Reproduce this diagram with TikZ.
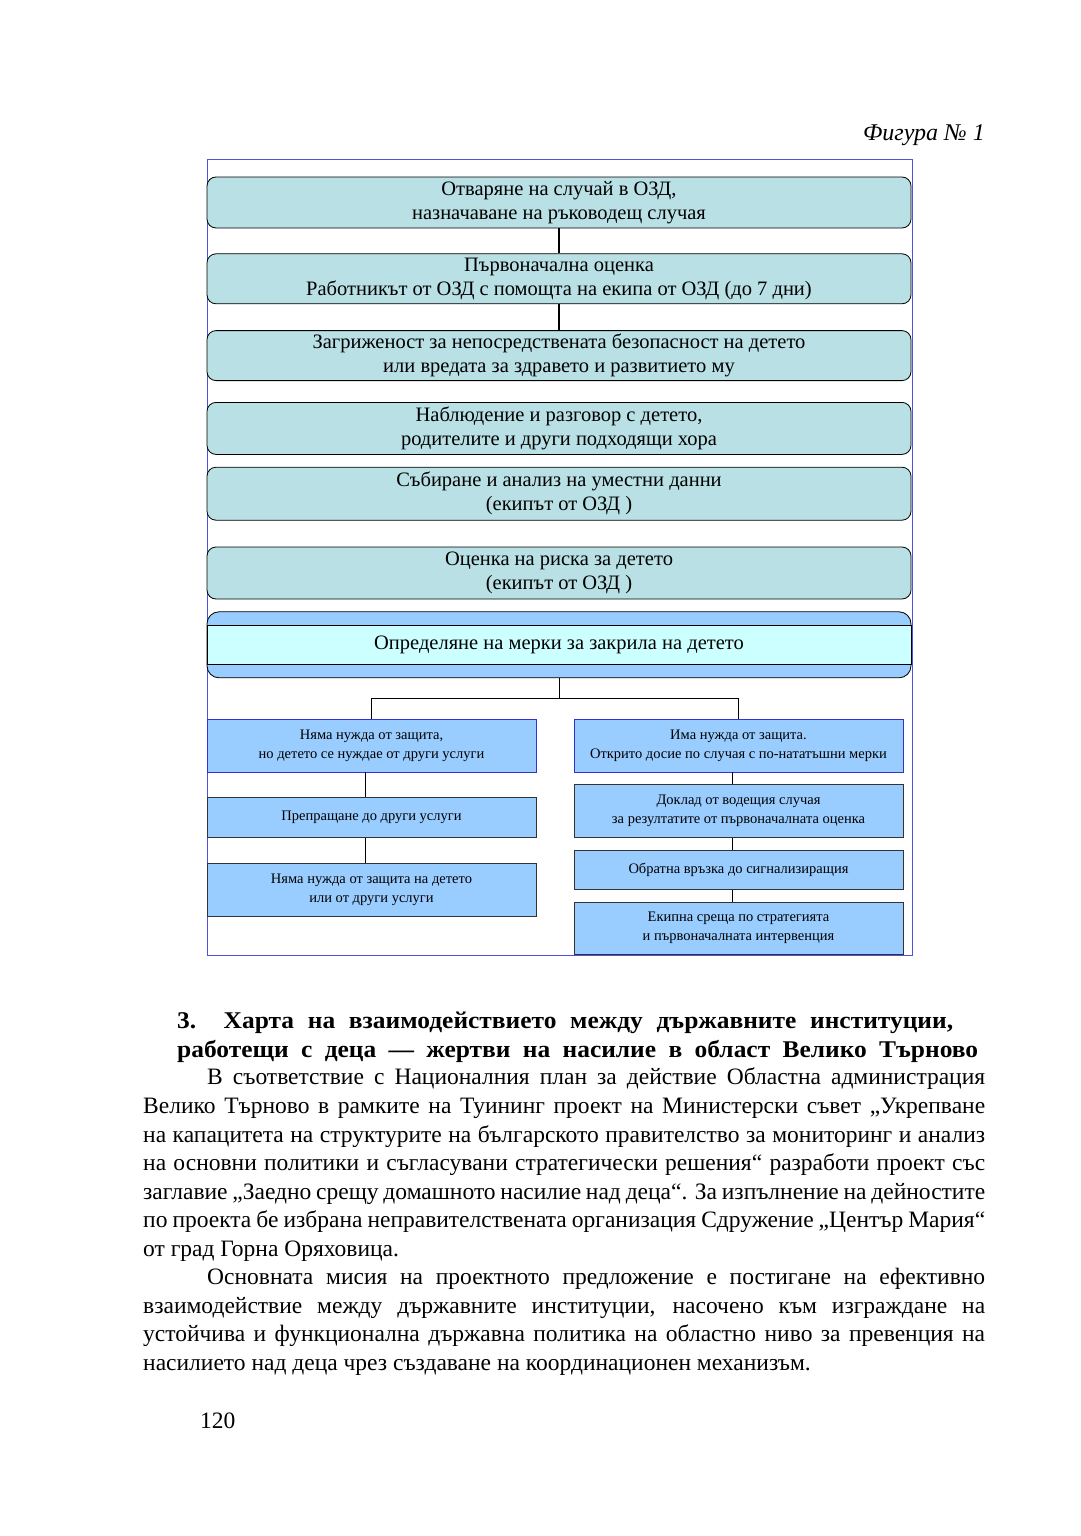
\documentclass[tikz,border=0pt]{standalone}
\usepackage{fontspec}
\setmainfont{Liberation Serif}
\newfontfamily\headfont[FakeStretch=1.06]{Liberation Serif}
\usetikzlibrary{positioning}
\definecolor{stagefill}{RGB}{185,224,228}
\definecolor{branchfill}{RGB}{153,204,255}
\definecolor{bandfill}{RGB}{204,255,255}
\definecolor{framecol}{RGB}{80,80,225}
\definecolor{branchedge}{RGB}{51,51,204}
\tikzset{
  stage/.style={draw=black, line width=0.8pt, fill=stagefill, rounded corners=9pt, minimum width=704pt,
    inner sep=0pt, align=center, font=\fontsize{20.5}{24}\selectfont},
  branch/.style={draw=black!80, line width=0.7pt, fill=branchfill, minimum width=329pt, inner sep=0pt,
    align=center, font=\fontsize{14.5}{19}\selectfont},
  branchtop/.style={branch, draw=branchedge},
  textline/.style={anchor=base west, inner sep=0pt, font=\fontsize{23.5}{28.6}\selectfont}
}
\newcommand{\bodyline}[4]{\node[textline] (#1) at (#2) {\makebox[#3][s]{#4}};}

\begin{document}
\begin{tikzpicture}[x=1pt, y=-1pt]
    % Page:
    \useasboundingbox[fill=white] (0,0) rectangle (1080,1536);
    \node[anchor=base east, inner sep=0pt, font=\itshape\fontsize{24}{28}\selectfont] (caption) at (985,141) {Фигура № 1};
    \draw[framecol, line width=0.9pt] (207,159) rectangle (912,955);

    % Stages:
    \node[stage, minimum height=51pt] (open) at (559,202.5) {Отваряне на случай в ОЗД,\\назначаване на ръководещ случая};
    \node[stage, minimum height=50pt, below=25pt of open] (first) {Първоначална оценка\\Работникът от ОЗД с помощта на екипа от ОЗД (до 7 дни)};
    \node[stage, minimum height=50pt, below=26pt of first] (concern) {Загриженост за непосредствената безопасност на детето\\или вредата за здравето и развитието му};
    \node[stage, minimum height=52pt, below=21pt of concern] (watch) {Наблюдение и разговор с детето,\\родителите и други подходящи хора};
    \node[stage, minimum height=53pt, below=12pt of watch] (collect) {Събиране и анализ на уместни данни\\(екипът от ОЗД )};
    \node[stage, minimum height=52pt, below=26pt of collect] (risk) {Оценка на риска за детето\\(екипът от ОЗД )};
    \node[stage, fill=branchfill, rounded corners=12pt, minimum height=66pt, below=12pt of risk] (measures) {};
    \node[draw=black, line width=0.8pt, fill=bandfill, minimum width=704pt, minimum height=39pt, inner sep=0pt,
          font=\fontsize{20.5}{24}\selectfont] (band) at (measures.center) {Определяне на мерки за закрила на детето};

    \draw[line width=2.6pt] (open) -- (first);
    \draw[line width=2.6pt] (first) -- (concern);

    % Branches:
    \node[branchtop, minimum height=53pt] (nohelp) at (371.5,745.5) {Няма нужда от защита,\\но детето се нуждае от други услуги};
    \node[branch, minimum height=40pt, below=25pt of nohelp] (refer) {Препращане до други услуги};
    \node[branch, minimum height=53pt, below=25pt of refer] (none) {Няма нужда от защита на детето\\или от други услуги};

    \node[branchtop, minimum height=53pt] (help) at (738.5,745.5) {Има нужда от защита.\\Открито досие по случая с по-нататъшни мерки};
    \node[branch, minimum height=53pt, below=12pt of help] (report) {Доклад от водещия случая\\за резултатите от първоначалната оценка};
    \node[branch, minimum height=39pt, below=12pt of report] (feedback) {Обратна връзка до сигнализиращия};
    \node[branch, minimum height=52pt, below=12pt of feedback] (meeting) {Екипна среща по стратегията\\и първоначалната интервенция};

    \draw[line width=0.9pt] (measures.south) -- ++(0,20) coordinate (fork);
    \draw[line width=0.9pt] (fork) -| (nohelp.north);
    \draw[line width=0.9pt] (fork) -| (help.north);
    \draw[line width=0.7pt] ([xshift=-6pt]nohelp.south) -- ([xshift=-6pt]refer.north);
    \draw[line width=0.7pt] ([xshift=-6pt]refer.south) -- ([xshift=-6pt]none.north);
    \draw[line width=0.7pt] ([xshift=-6pt]help.south) -- ([xshift=-6pt]report.north);
    \draw[line width=0.7pt] ([xshift=-6pt]report.south) -- ([xshift=-6pt]feedback.north);
    \draw[line width=0.7pt] ([xshift=-6pt]feedback.south) -- ([xshift=-6pt]meeting.north);

    % Text below:
    \node[textline, font=\headfont\bfseries\fontsize{24}{28}\selectfont] (head1) at (177,1028)
        {\makebox[776pt][s]{3.\ \ Харта на взаимодействието между държавните институции,}};
    \node[textline, font=\headfont\bfseries\fontsize{24}{28}\selectfont] (head2) at (177,1057)
        {\makebox[801pt][s]{работещи с деца — жертви на насилие в област Велико Търново}};
    \bodyline{p1}{207,1084}{778pt}{В съответствие с Националния план за действие Областна администрация}
    \bodyline{p2}{143,1113}{842pt}{Велико Търново в рамките на Туининг проект на Министерски съвет „Укрепване}
    \bodyline{p3}{143,1142}{842pt}{на капацитета на структурите на българското правителство за мониторинг и анализ}
    \bodyline{p4}{143,1170}{842pt}{на основни политики и съгласувани стратегически решения“ разработи проект със}
    \bodyline{p5}{143,1199}{842pt}{заглавие „Заедно срещу домашното насилие над деца“. За изпълнение на дейностите}
    \bodyline{p6}{143,1227}{842pt}{по проекта бе избрана неправителствената организация Сдружение „Център Мария“}
    \node[textline] (p7) at (143,1256) {от град Горна Оряховица.};
    \bodyline{q1}{207,1284}{778pt}{Основната мисия на проектното предложение е постигане на ефективно}
    \bodyline{q2}{143,1313}{842pt}{взаимодействие между държавните институции, насочено към изграждане на}
    \bodyline{q3}{143,1341}{842pt}{устойчива и функционална държавна политика на областно ниво за превенция на}
    \node[textline] (q4) at (143,1370) {насилието над деца чрез създаване на координационен механизъм.};
    \node[textline] (page) at (200,1428) {120};
\end{tikzpicture}
\end{document}
